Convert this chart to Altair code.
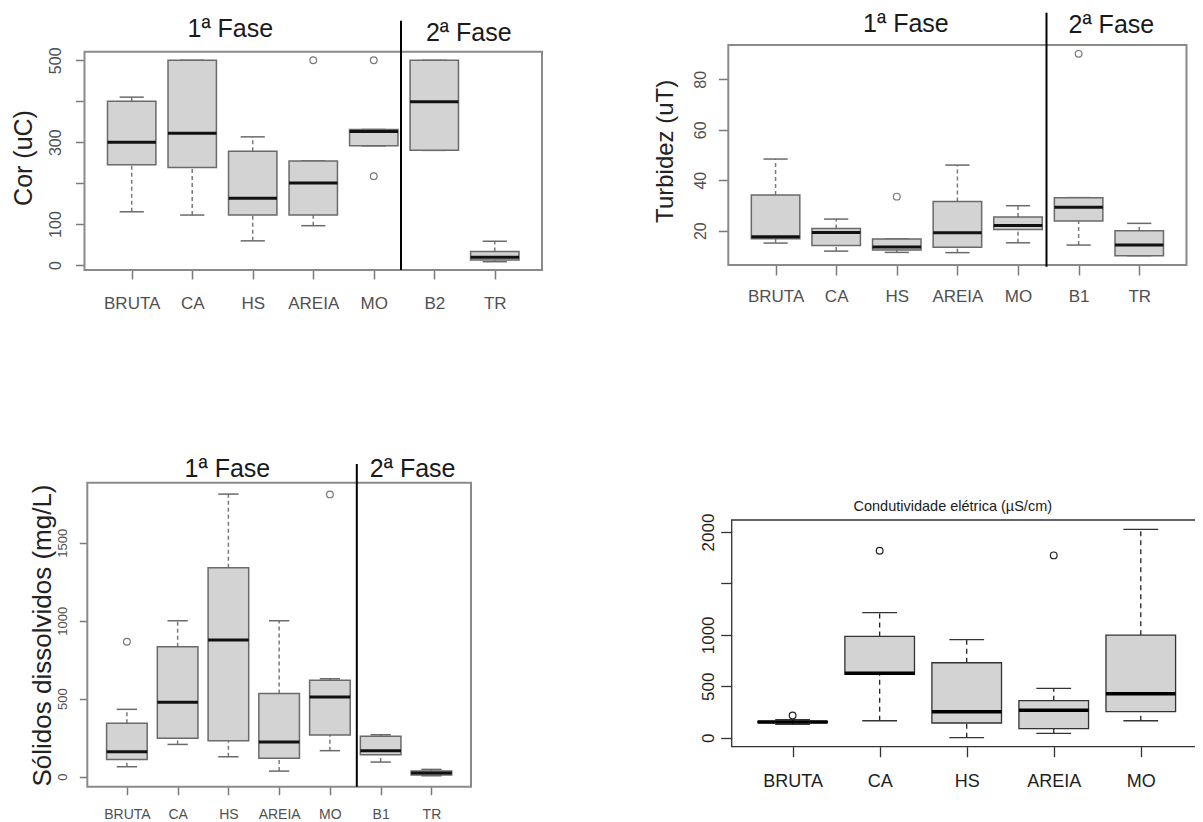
import altair as alt
import pandas as pd

FONT = "Liberation Sans"
W, H = 1187, 812
M = 8  # page margin

# ---------------- data ----------------
# Panel 1: Cor (uC)
cor_cats = ["BRUTA", "CA", "HS", "AREIA", "MO", "B2", "TR"]
cor_lower = [130, 122, 59, 96, 291, 280, 8]
cor_q1 = [245, 238, 122, 122, 291, 280, 12]
cor_median = [300, 322, 163, 200, 326, 399, 19]
cor_q3 = [400, 500, 278, 254, 331, 500, 33]
cor_upper = [410, 500, 313, 254, 331, 500, 58]
cor_out_cats = ["AREIA", "MO", "MO"]
cor_out_vals = [500, 500, 217]
cor_ticks = [0, 100, 200, 300, 400, 500]
cor_tick_labels = ["0", "100", "", "300", "", "500"]

# Panel 2: Turbidez (uT)
tur_cats = ["BRUTA", "CA", "HS", "AREIA", "MO", "B1", "TR"]
tur_lower = [15.1, 11.9, 11.4, 11.3, 15.2, 14.3, 10.1]
tur_q1 = [16.8, 14.1, 12.3, 13.4, 20.5, 23.8, 10.1]
tur_median = [17.6, 19.3, 13.5, 19.2, 22.1, 29.3, 14.3]
tur_q3 = [34.1, 20.9, 16.7, 31.6, 25.4, 33.1, 20.0]
tur_upper = [48.4, 24.6, 16.7, 46.0, 29.9, 33.1, 22.9]
tur_out_cats = ["HS", "B1"]
tur_out_vals = [33.5, 90.1]
tur_ticks = [20, 40, 60, 80]
tur_tick_labels = ["20", "40", "60", "80"]

# Panel 3: Sólidos dissolvidos (mg/L)
sol_cats = ["BRUTA", "CA", "HS", "AREIA", "MO", "B1", "TR"]
sol_lower = [64, 207, 128, 36, 167, 94, 6]
sol_q1 = [111, 246, 231, 118, 267, 141, 11]
sol_median = [160, 477, 876, 222, 511, 167, 24]
sol_q3 = [342, 833, 1340, 534, 618, 259, 36]
sol_upper = [432, 1000, 1812, 1000, 628, 269, 47]
sol_out_cats = ["BRUTA", "MO"]
sol_out_vals = [865, 1810]
sol_ticks = [0, 500, 1000, 1500]
sol_tick_labels = ["0", "500", "1000", "1500"]

# Panel 4: Condutividade elétrica (µS/cm)
con_cats = ["BRUTA", "CA", "HS", "AREIA", "MO"]
con_lower = [130, 165, 0, 42, 165]
con_q1 = [146, 616, 143, 88, 253]
con_median = [152, 626, 253, 266, 428]
con_q3 = [159, 985, 729, 360, 997]
con_upper = [175, 1216, 953, 480, 2026]
con_out_cats = ["BRUTA", "CA", "AREIA"]
con_out_vals = [217, 1818, 1773]
con_ticks = [0, 500, 1000, 1500, 2000]
con_tick_labels = ["0", "500", "1000", "", "2000"]

phase_labels = ["1ª Fase", "2ª Fase"]

# ---------------- styles ----------------
blurry = dict(frame="#8a8a8a", framew=2, box="#6a6a6a", boxw=1.5, wh="#7a7a7a", whw=1.5,
              dash=[4, 3], med="#111111", medw=3, out="#777777", tick="#7a7a7a", tickw=1.5,
              lab="#505050", title="#222222")
crisp = dict(frame="#333333", framew=1.3, box="#333333", boxw=1.3, wh="#222222", whw=1.3,
             dash=[5, 4], med="#000000", medw=3.5, out="#222222", tick="#333333", tickw=1.3,
             lab="#1e1e1e", title="#1e1e1e")


def build_panel(cats, lower, q1, med, q3, upper, out_cats, out_vals, y_ticks, y_tick_labels,
                frame, y_domain, st, ax, y_title=None, sep=None, texts=()):
    n = len(cats)
    pad = 0.04 * n
    x_domain = [0.5 - pad, n + 0.5 + pad]
    fx0, fx1, fy0, fy1 = [v - M for v in frame]  # left, right, top, bottom
    xs = alt.Scale(domain=x_domain, range=[fx0, fx1], nice=False, zero=False)
    ys = alt.Scale(domain=y_domain, range=[fy1, fy0], nice=False, zero=False)

    cat_expr = "[" + ",".join(f"'{c}'" for c in cats) + "][datum.value - 1]"
    lab_expr = ("[" + ",".join(f"'{l}'" for l in y_tick_labels) + "][indexof(["
                + ",".join(str(v) for v in y_ticks) + "], datum.value)]")

    x_axis = alt.Axis(orient="bottom", offset=fy1 - H, values=list(range(1, n + 1)),
                      labelExpr=cat_expr, domain=False, grid=False, ticks=True,
                      tickSize=ax["xtick"], tickColor=st["tick"], tickWidth=st["tickw"],
                      labelFont=FONT, labelFontSize=ax["xfs"], labelColor=st["lab"],
                      labelPadding=ax["xpad"], labelBaseline="alphabetic", labelAlign="center",
                      labelAngle=0, labelOverlap=False, labelFlush=False, title=None)
    y_kw = dict(orient="left", offset=-fx0, values=y_ticks, labelExpr=lab_expr, domain=False,
                grid=False, ticks=True, tickSize=ax["ytick"], tickColor=st["tick"],
                tickWidth=st["tickw"], labelFont=FONT, labelFontSize=ax["yfs"],
                labelColor=st["lab"], labelPadding=ax["ypad"], labelAngle=270,
                labelAlign="center", labelBaseline="alphabetic", labelOverlap=False,
                labelFlush=False)
    if y_title is not None:
        t, tx, ty, tfs = y_title
        y_kw.update(title=t, titleAngle=270, titleAlign="center", titleBaseline="alphabetic",
                    titleX=tx - M - fx0, titleY=ty - M, titleFont=FONT, titleFontSize=tfs,
                    titleFontWeight="normal", titleColor=st["title"])
    else:
        y_kw.update(title=None)
    y_axis = alt.Axis(**y_kw)

    df = pd.DataFrame(dict(i=list(range(1, n + 1)), cat=cats, lo=lower, q1=q1,
                           med=med, q3=q3, hi=upper))
    base = alt.Chart(df).transform_calculate(
        xl="datum.i - 0.4", xr="datum.i + 0.4", cl="datum.i - 0.2", cr="datum.i + 0.2")

    def X(f, axis=None):
        return alt.X(f"{f}:Q", scale=xs, axis=axis)

    def Y(f, axis=None):
        return alt.Y(f"{f}:Q", scale=ys, axis=axis)

    layers = []
    # whiskers (dashed)
    layers.append(base.mark_rule(color=st["wh"], strokeWidth=st["whw"], strokeDash=st["dash"])
                  .encode(x=X("i"), y=Y("q3"), y2="hi:Q"))
    layers.append(base.mark_rule(color=st["wh"], strokeWidth=st["whw"], strokeDash=st["dash"])
                  .encode(x=X("i"), y=Y("lo"), y2="q1:Q"))
    # staples
    layers.append(base.mark_rule(color=st["box"], strokeWidth=st["boxw"])
                  .encode(x=X("cl"), x2="cr:Q", y=Y("hi")))
    layers.append(base.mark_rule(color=st["box"], strokeWidth=st["boxw"])
                  .encode(x=X("cl"), x2="cr:Q", y=Y("lo")))
    # boxes (carry the axes)
    layers.append(base.mark_rect(fill="#d3d3d3", stroke=st["box"], strokeWidth=st["boxw"])
                  .encode(x=X("xl", x_axis), x2="xr:Q", y=Y("q1", y_axis), y2="q3:Q"))
    # medians
    layers.append(base.mark_rule(color=st["med"], strokeWidth=st["medw"])
                  .encode(x=X("xl"), x2="xr:Q", y=Y("med")))
    # outliers
    odf = pd.DataFrame(dict(i=[cats.index(c) + 1 for c in out_cats], v=out_vals))
    layers.append(alt.Chart(odf).mark_point(shape="circle", filled=False, size=45,
                                            color=st["out"], strokeWidth=1.2, opacity=1)
                  .encode(x=X("i"), y=Y("v")))
    # frame
    fdf = pd.DataFrame(dict(a=[x_domain[0]], b=[x_domain[1]], c=[y_domain[0]], d=[y_domain[1]]))
    layers.append(alt.Chart(fdf).mark_rect(fill="transparent", stroke=st["frame"],
                                           strokeWidth=st["framew"])
                  .encode(x=X("a"), x2="b:Q", y=Y("c"), y2="d:Q"))
    # phase separator
    if sep is not None:
        sx, sy0, sy1 = sep
        sdf = pd.DataFrame(dict(x=[sx], y0=[sy0], y1=[sy1]))
        layers.append(alt.Chart(sdf).mark_rule(color="#000000", strokeWidth=2)
                      .encode(x=X("x"), y=Y("y0"), y2="y1:Q"))
    # texts above the panel
    for txt, tx, ty, fs in texts:
        tdf = pd.DataFrame(dict(t=[txt], x=[tx], y=[ty]))
        layers.append(alt.Chart(tdf).mark_text(font=FONT, fontSize=fs, align="center",
                                               baseline="alphabetic", color="#1a1a1a")
                      .encode(x=X("x"), y=Y("y"), text="t:N"))
    return layers


ax1 = dict(xtick=9, xfs=17, xpad=29, ytick=9, yfs=16, ypad=15.5)
p1 = build_panel(cor_cats, cor_lower, cor_q1, cor_median, cor_q3, cor_upper,
                 cor_out_cats, cor_out_vals, cor_ticks, cor_tick_labels,
                 frame=(84.5, 542, 51.7, 270), y_domain=[-12.2, 521], st=blurry, ax=ax1,
                 y_title=("Cor (uC)", 31.7, 157.5, 25),
                 sep=(5.45, -12.2, 596.7),
                 texts=[(phase_labels[0], 2.63, 556.2, 25), (phase_labels[1], 6.57, 547.9, 25)])

ax2 = dict(xtick=10, xfs=17, xpad=26.7, ytick=10, yfs=16, ypad=13.3)
p2 = build_panel(tur_cats, tur_lower, tur_q1, tur_median, tur_q3, tur_upper,
                 tur_out_cats, tur_out_vals, tur_ticks, tur_tick_labels,
                 frame=(728.3, 1186.5, 45, 265), y_domain=[6.4, 93.6], st=blurry, ax=ax2,
                 y_title=("Turbidez (uT)", 672.7, 150.8, 24),
                 sep=(5.47, 5.7, 106.4),
                 texts=[(phase_labels[0], 3.15, 98.9, 25), (phase_labels[1], 6.54, 98.2, 25)])

ax3 = dict(xtick=8, xfs=14, xpad=23.3, ytick=8, yfs=13, ypad=13.3)
p3 = build_panel(sol_cats, sol_lower, sol_q1, sol_median, sol_q3, sol_upper,
                 sol_out_cats, sol_out_vals, sol_ticks, sol_tick_labels,
                 frame=(87.3, 471, 482.7, 786.7), y_domain=[-64, 1885], st=blurry, ax=ax3,
                 y_title=("Sólidos dissolvidos (mg/L)", 50, 635, 26),
                 sep=(5.53, -64, 2005),
                 texts=[(phase_labels[0], 2.98, 1921, 25), (phase_labels[1], 6.63, 1921, 25)])

ax4 = dict(xtick=10, xfs=18, xpad=30, ytick=11, yfs=17, ypad=7.7)
p4 = build_panel(con_cats, con_lower, con_q1, con_median, con_q3, con_upper,
                 con_out_cats, con_out_vals, con_ticks, con_tick_labels,
                 frame=(731.7, 1201.7, 520, 746.7), y_domain=[-87.5, 2117], st=crisp, ax=ax4,
                 texts=[("Condutividade elétrica (µS/cm)", 2.84, 2207, 14.5)])

chart = (
    alt.layer(*(p1 + p2 + p3 + p4))
    .resolve_scale(x="independent", y="independent")
    .properties(width=W, height=H, padding=0, autosize=alt.AutoSizeParams(type="none"))
    .configure_view(stroke=None)
)

chart.save("out.html", embed_options={"renderer": "svg", "actions": False})
